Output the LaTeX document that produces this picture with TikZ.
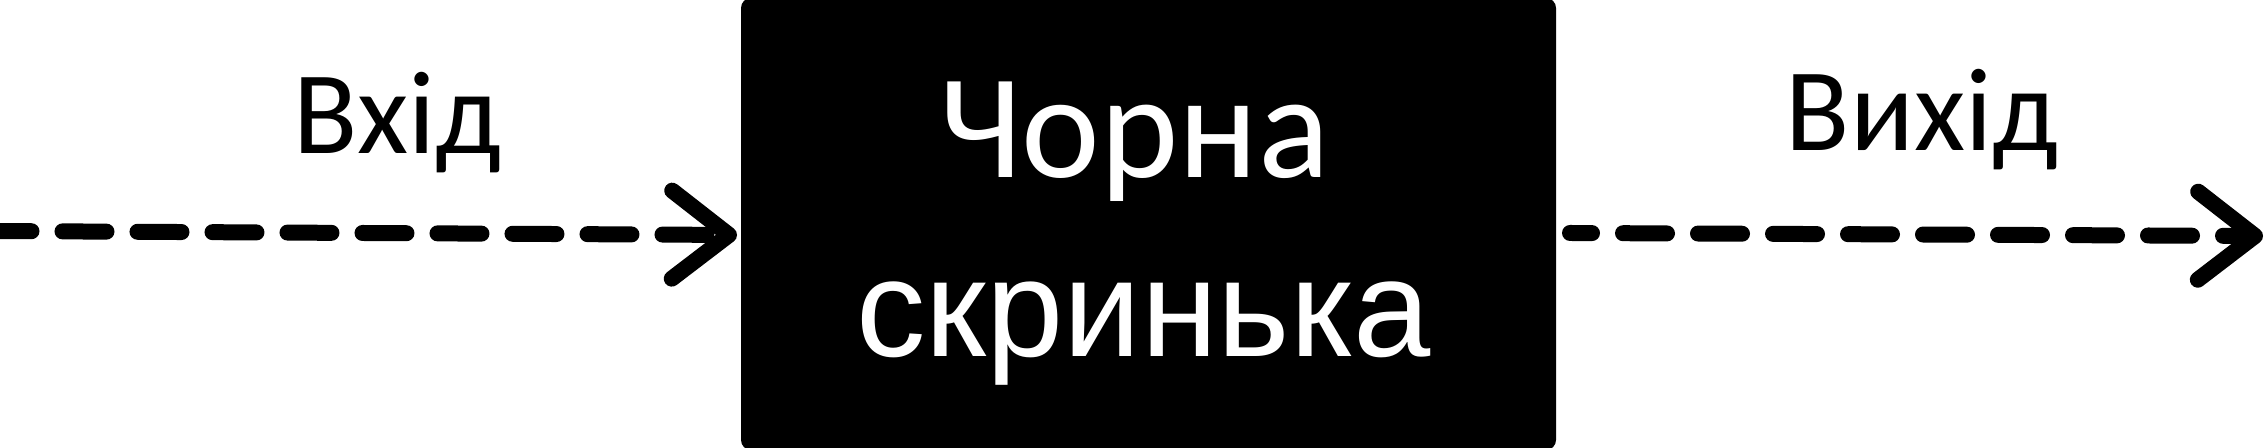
\documentclass[tikz,border=0pt]{standalone}
\usepackage{fontspec}
\setmainfont{Carlito}
\newfontfamily\arialfont{Liberation Sans}
\usetikzlibrary{arrows.meta, positioning}

\begin{document}
\begin{tikzpicture}[
        every node/.style={align=center, inner sep=0pt},
        blackbox/.style={fill=black, rounded corners=0.1cm, minimum width=8.15cm, minimum height=4.52cm},
        flow/.style={line width=0.16cm, line cap=round, dash pattern=on 0.44cm off 0.31cm,
            -{Straight Barb[length=0.57cm, width=0.88cm, round]}},
        port/.style={font=\fontsize{33.6}{40}\selectfont, anchor=base}
    ]
    \useasboundingbox (0,0) rectangle (22.66,4.48);

    % black box
    \node[blackbox] (box) at (11.485,2.24) {};
    \node[text=white, font=\fontsize{42.4}{50}\selectfont, anchor=base] (chorna) at (11.345,2.70) {Чорна};
    \node[text=white, font=\arialfont\fontsize{39.5}{47}\selectfont, anchor=base] (skrynka) at (11.435,0.91) {скринька};

    % input and output
    \coordinate (inL) at (-0.125,2.17);
    \coordinate (inR) at (7.37,2.13);
    \coordinate (outL) at (15.70,2.15);
    \coordinate (outR) at (22.63,2.12);
    \draw[flow] (inL) -- (inR);
    \draw[flow, dash phase=0.22cm] (outL) -- (outR);
    \node[port] (vhid) at (3.975,2.94) {Вхід};
    \node[port] (vyhid) at (19.22,2.97) {Вихід};
\end{tikzpicture}
\end{document}
